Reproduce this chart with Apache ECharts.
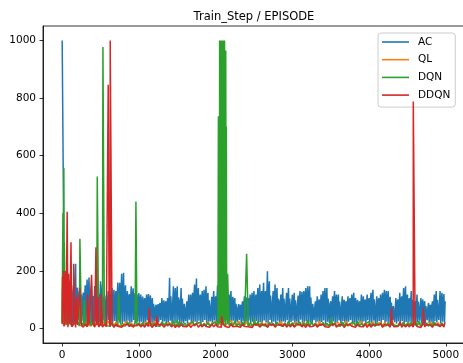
<!DOCTYPE html>
<html>
<head>
<meta charset="utf-8">
<script src="https://cdn.jsdelivr.net/npm/echarts@6/dist/echarts.min.js"></script>
<style>
  html, body { margin: 0; padding: 0; background: #fff; }
  #chart { width: 463px; height: 363px; }
</style>
</head>
<body>
<div id="chart"></div>
<script>
// episode spacing of the sampled values below
const step = 25

// AC: band top (episode 25*i), band bottom (25*i + 8), solid level (25*i + 16)
const acPeak = [
  1000, 160, 140, 150, 164, 150, 140, 225, 142, 130, 118, 125, 150, 170, 177, 135, 113, 148, 130, 120,
  164, 153, 113, 115, 130, 118, 141, 135, 130, 160, 159, 190, 194, 150, 130, 120, 147, 140, 123, 118,
  123, 118, 111, 106, 118, 120, 115, 106, 90, 83, 85, 89, 106, 98, 95, 106, 176, 118, 147, 141,
  147, 95, 141, 106, 83, 95, 118, 118, 124, 153, 174, 141, 118, 130, 135, 147, 124, 95, 110, 130,
  112, 150, 176, 147, 106, 106, 112, 118, 130, 110, 106, 83, 85, 83, 95, 112, 108, 106, 118, 124,
  130, 118, 141, 153, 130, 159, 130, 199, 164, 118, 130, 153, 141, 95, 118, 141, 106, 124, 141, 106,
  118, 124, 101, 115, 130, 128, 130, 141, 147, 147, 106, 83, 95, 112, 101, 118, 130, 141, 141, 106,
  95, 112, 130, 118, 118, 95, 112, 100, 95, 112, 106, 118, 124, 106, 100, 95, 118, 112, 101, 118,
  106, 124, 135, 106, 112, 106, 118, 124, 135, 130, 130, 110, 95, 83, 106, 101, 124, 112, 141, 147,
  118, 106, 130, 106, 95, 118, 95, 106, 101, 95, 83, 89, 83, 95, 118, 130, 101, 130, 124, 120
]
const acDip = [
  1000, 22, 30, 18, 26, 14, 24, 19, 31, 15, 27, 17, 21, 13, 33, 19, 16, 25, 14, 22,
  18, 28, 15, 23, 30, 17, 20, 26, 14, 29, 21, 16, 24, 19, 27, 13, 22, 30, 18, 25,
  16, 24, 20, 14, 28, 19, 23, 15, 26, 18, 21, 30, 17, 25, 13, 22, 27, 16, 24, 19,
  29, 15, 22, 18, 26, 14, 31, 20, 17, 24, 19, 27, 15, 23, 30, 16, 21, 25, 14, 28,
  20, 17, 26, 13, 24, 29, 18, 22, 15, 27, 16, 23, 30, 19, 25, 14, 21, 28, 17, 24,
  15, 26, 19, 23, 14, 28, 21, 17, 30, 18, 24, 16, 27, 20, 13, 25, 22, 29, 18, 23,
  27, 16, 24, 19, 31, 15, 22, 26, 18, 21, 14, 29, 20, 25, 17, 23, 28, 15, 24, 19,
  18, 25, 14, 22, 28, 17, 26, 20, 15, 24, 30, 19, 23, 16, 27, 21, 14, 25, 18, 29,
  23, 19, 27, 15, 21, 26, 18, 30, 16, 24, 20, 13, 28, 22, 17, 25, 19, 26, 15, 23,
  17, 24, 20, 28, 14, 22, 27, 16, 25, 19, 29, 18, 23, 15, 26, 21, 30, 17, 24, 20
]
const acMid = [
  1000, 110, 105, 115, 120, 110, 100, 130, 105, 95, 90, 100, 115, 120, 125, 100, 90, 110, 100, 95,
  115, 110, 90, 92, 100, 95, 105, 102, 98, 115, 112, 120, 125, 108, 100, 94, 108, 105, 96, 92,
  98, 94, 90, 86, 95, 96, 92, 86, 76, 72, 74, 76, 86, 80, 78, 86, 112, 94, 108, 104,
  108, 78, 104, 86, 72, 78, 94, 94, 98, 110, 118, 104, 94, 100, 102, 108, 98, 78, 90, 100,
  90, 108, 115, 106, 86, 86, 90, 94, 100, 90, 86, 72, 74, 72, 78, 90, 88, 86, 94, 98,
  100, 94, 104, 110, 100, 112, 100, 125, 115, 94, 100, 110, 104, 78, 94, 104, 86, 98, 104, 86,
  94, 98, 82, 92, 100, 98, 100, 104, 108, 108, 86, 72, 78, 90, 82, 94, 100, 104, 104, 86,
  78, 90, 100, 94, 94, 78, 90, 82, 78, 90, 86, 94, 98, 86, 82, 78, 94, 90, 82, 94,
  86, 98, 102, 86, 90, 86, 94, 98, 102, 100, 100, 90, 78, 72, 86, 82, 98, 90, 104, 108,
  94, 86, 100, 86, 78, 94, 78, 86, 82, 78, 72, 76, 72, 78, 94, 100, 82, 100, 98, 95
]

// QL / DQN / DDQN baseline values at episode 25*i
const qlBase = [
  22, 10, 17, 12, 25, 9, 19, 13, 21, 11, 16, 10, 24, 12, 18, 9, 23, 11, 20, 10,
  17, 12, 21, 9, 26, 11, 18, 10, 22, 13, 19, 9, 16, 12, 24, 10, 20, 11, 17, 9,
  20, 11, 18, 13, 23, 10, 16, 12, 25, 9, 19, 11, 22, 10, 17, 13, 21, 9, 24, 12,
  18, 10, 23, 11, 16, 9, 20, 13, 26, 10, 17, 12, 21, 9, 19, 11, 24, 10, 18, 12,
  25, 9, 19, 12, 22, 10, 17, 11, 28, 13, 20, 9, 27, 12, 18, 10, 23, 11, 16, 9,
  21, 12, 17, 10, 24, 11, 19, 9, 22, 13, 16, 10, 20, 12, 25, 11, 18, 9, 23, 10,
  17, 11, 22, 13, 19, 9, 24, 10, 16, 12, 21, 11, 18, 9, 26, 10, 20, 12, 17, 11,
  23, 10, 18, 12, 21, 9, 16, 11, 25, 13, 19, 10, 22, 9, 17, 12, 24, 11, 20, 10,
  19, 12, 24, 9, 17, 11, 22, 10, 20, 13, 18, 9, 26, 12, 16, 10, 21, 11, 23, 9,
  16, 10, 20, 12, 25, 11, 18, 9, 22, 13, 17, 10, 24, 12, 19, 11, 21, 9, 18, 10
]
const dqnBase = [
  20, 9, 18, 11, 24, 8, 16, 10, 22, 9, 19, 12, 15, 8, 21, 10, 26, 9, 17, 11,
  19, 8, 23, 10, 16, 9, 20, 12, 18, 8, 25, 10, 15, 9, 22, 11, 17, 8, 21, 10,
  18, 10, 22, 8, 17, 11, 24, 9, 19, 10, 16, 8, 23, 12, 20, 9, 18, 10, 27, 8,
  16, 9, 21, 11, 19, 8, 15, 10, 24, 9, 18, 12, 22, 8, 17, 10, 20, 9, 16, 11,
  23, 8, 18, 10, 21, 9, 16, 11, 19, 8, 26, 10, 17, 9, 22, 12, 18, 8, 20, 10,
  17, 10, 24, 9, 19, 11, 15, 8, 21, 10, 18, 9, 23, 12, 16, 8, 20, 10, 25, 9,
  21, 8, 16, 10, 22, 9, 19, 11, 17, 8, 24, 10, 18, 9, 15, 12, 21, 8, 19, 10,
  18, 9, 20, 11, 16, 8, 23, 10, 19, 9, 17, 12, 22, 8, 26, 10, 18, 9, 16, 11,
  24, 10, 17, 8, 20, 11, 18, 9, 15, 10, 22, 8, 19, 12, 17, 9, 21, 10, 23, 8,
  19, 11, 22, 9, 16, 10, 25, 8, 18, 11, 20, 9, 17, 10, 23, 12, 16, 8, 20, 9
]
const ddqnBase = [
  15, 7, 12, 5, 14, 6, 16, 4, 13, 8, 12, 5, 15, 6, 13, 7, 14, 5, 12, 6,
  13, 5, 15, 7, 12, 6, 14, 4, 16, 8, 13, 5, 12, 6, 15, 7, 14, 5, 12, 6,
  14, 6, 13, 5, 16, 7, 12, 4, 15, 6, 13, 8, 14, 5, 12, 7, 15, 6, 13, 4,
  12, 5, 14, 7, 13, 6, 15, 4, 12, 8, 16, 5, 13, 6, 14, 7, 12, 5, 15, 6,
  16, 6, 12, 5, 14, 7, 13, 4, 15, 6, 12, 8, 14, 5, 16, 7, 13, 6, 12, 4,
  13, 7, 15, 5, 12, 6, 14, 4, 13, 8, 15, 5, 12, 6, 14, 7, 16, 5, 13, 6,
  14, 5, 12, 7, 15, 6, 13, 4, 16, 6, 12, 8, 15, 5, 13, 7, 14, 6, 12, 5,
  12, 6, 16, 5, 13, 7, 14, 4, 12, 6, 15, 8, 13, 5, 14, 7, 12, 6, 16, 4,
  15, 5, 13, 7, 12, 6, 16, 4, 14, 8, 13, 5, 15, 6, 12, 7, 14, 5, 13, 6,
  13, 6, 14, 5, 16, 7, 12, 4, 15, 6, 14, 8, 12, 5, 13, 7, 15, 6, 14, 5
]

// single episodes that stand out from the baseline: [episode, steps]
const qlSpikes = [[2, 180], [6, 110], [10, 150], [14, 70], [18, 90], [32, 60], [45, 30]]
const dqnSpikes = [
  [5, 250], [10, 402], [15, 150], [22, 558], [28, 300], [35, 120], [45, 200], [60, 90], [80, 150],
  [231, 312], [290, 100], [350, 80], [457, 528], [531, 977], [735, 124], [961, 441], [1500, 30],
  [2030, 20], [2036, 737], [2040, 25], [2044, 737], [2048, 30], [2052, 1000], [2056, 40], [2060, 1000],
  [2064, 20], [2068, 1000], [2072, 60], [2076, 1000], [2080, 30], [2084, 1000], [2088, 90], [2092, 1000],
  [2096, 40], [2100, 1000], [2104, 25], [2108, 1000], [2112, 70], [2116, 1000], [2120, 30], [2124, 965],
  [2128, 50], [2132, 965], [2136, 40], [2140, 700], [2144, 30], [2148, 187], [2152, 25], [2156, 190],
  [2404, 260], [2500, 35], [3200, 30], [3510, 37], [4000, 28], [4600, 30]
]
const ddqnSpikes = [
  [3, 120], [8, 180], [12, 60], [16, 200], [20, 150], [30, 90], [35, 170], [40, 200], [45, 120],
  [55, 140], [65, 405], [85, 190], [115, 300], [150, 225], [190, 110], [230, 140], [330, 118],
  [383, 187], [440, 282], [470, 110], [510, 120], [600, 846], [612, 40], [626, 1000], [1134, 72],
  [1228, 43], [2078, 43], [4294, 72], [4400, 25], [4576, 788], [4707, 72], [4990, 22]
]

const seriesNames = ['AC', 'QL', 'DQN', 'DDQN']
const colors = ['#1f77b4', '#ff7f0e', '#2ca02c', '#d62728']
const xTicks = [0, 1000, 2000, 3000, 4000, 5000]
const yTicks = [0, 200, 400, 600, 800, 1000]

function build(base, offset, extra) {
  let pts = base.map((v, i) => [i * step + offset, v])
  return pts.concat(extra || []).sort((a, b) => a[0] - b[0])
}

const acData = build(acPeak, 0, build(acDip, 8, build(acMid, 16)))
const lines = [acData, build(qlBase, 0, qlSpikes), build(dqnBase, 0, dqnSpikes), build(ddqnBase, 0, ddqnSpikes)]

const font = 'DejaVu Sans'
const plain = v => String(v)

function axis(min, max, ticks) {
  return {
    type: 'value', min: min, max: max,
    splitLine: { show: false },
    axisLine: { show: true, onZero: false, lineStyle: { color: '#000', width: 0.8 } },
    axisTick: { show: true, length: 3.5, customValues: ticks, lineStyle: { color: '#000', width: 0.8 } },
    axisLabel: { customValues: ticks, formatter: plain, margin: 7, fontFamily: font, fontSize: 10.5, color: '#000' }
  }
}

let chart = echarts.init(document.getElementById('chart'), null, { renderer: 'canvas' })

chart.setOption({
  animation: false,
  color: colors,
  title: {
    text: 'Train_Step / EPISODE',
    left: 249,
    top: 6,
    textAlign: 'center',
    textStyle: { fontFamily: font, fontSize: 11.5, fontWeight: 'normal', color: '#000' }
  },
  legend: {
    orient: 'vertical',
    left: 378,
    top: 33,
    icon: 'rect',
    itemWidth: 27,
    itemHeight: 1.6,
    itemGap: 5.7,
    padding: [3, 5, 6, 4],
    backgroundColor: 'rgba(255,255,255,0.8)',
    borderColor: '#cccccc',
    borderWidth: 1,
    borderRadius: 3,
    textStyle: { fontFamily: font, fontSize: 10.5, color: '#000', lineHeight: 12, padding: [0, 0, 0, 4] },
    data: seriesNames
  },
  grid: {
    left: 43, top: 26, width: 422, height: 317,
    show: true, borderColor: '#000', borderWidth: 0.8,
    outerBoundsMode: 'none'
  },
  xAxis: axis(-250, 5250, xTicks),
  yAxis: axis(-50, 1050, yTicks),
  series: seriesNames.map((name, i) => ({
    name: name,
    type: 'line',
    data: lines[i],
    symbol: 'none',
    silent: true,
    lineStyle: { width: 1.5, color: colors[i] },
    z: 2 + i
  }))
})
</script>
</body>
</html>
